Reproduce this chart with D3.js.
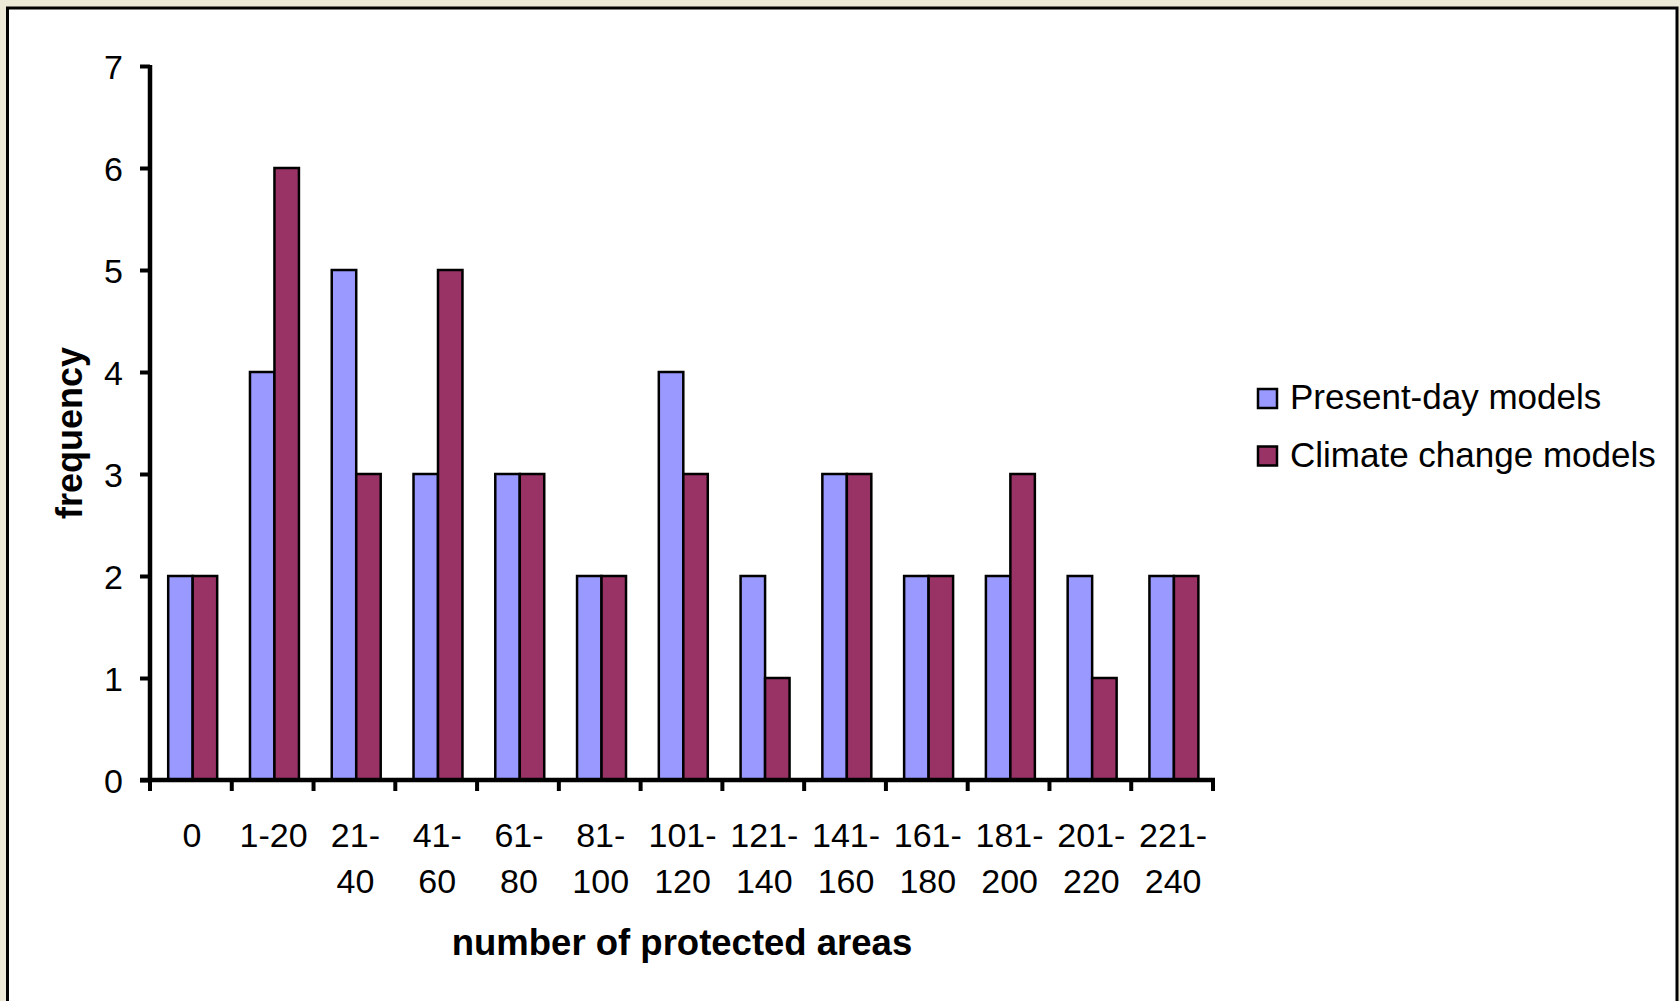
<!DOCTYPE html>
<html>
<head>
<meta charset="utf-8">
<script src="https://cdn.jsdelivr.net/npm/d3@7"></script>
<style>
  html, body { margin: 0; padding: 0; background: #ECE9D8; }
  svg { display: block; }
  text { font-family: "Liberation Sans", Arial, sans-serif; fill: #000; }
</style>
</head>
<body>
<svg id="chart" width="1680" height="1001"></svg>
<script>
// Frequency of species by number of protected areas
const categories = ["0", "1-20", "21-40", "41-60", "61-80", "81-100", "101-120",
                    "121-140", "141-160", "161-180", "181-200", "201-220", "221-240"];
const presentDay = [2, 4, 5, 3, 3, 2, 4, 2, 3, 2, 2, 2, 2];
const climateChange = [2, 6, 3, 5, 3, 2, 3, 1, 3, 2, 3, 1, 2];
const seriesNames = ["Present-day models", "Climate change models"];
const seriesColors = ["#9999FF", "#993366"];
const yTicks = [0, 1, 2, 3, 4, 5, 6, 7];

const svg = d3.select("#chart");
const W = 1680, H = 1001;

// outer frame
svg.append("rect").attr("width", W).attr("height", H).attr("fill", "#ECE9D8");
svg.append("rect")
  .attr("x", 7.5).attr("y", 8).attr("width", 1669.5).attr("height", H + 20)
  .attr("fill", "#fff").attr("stroke", "#000").attr("stroke-width", 3);

const plot = { left: 150, right: 1213, top: 66, bottom: 780 };

const x = d3.scaleBand().domain(categories).range([plot.left, plot.right]).paddingInner(0).paddingOuter(0);
const inner = d3.scaleBand().domain([0, 1]).range([0, x.bandwidth()]).paddingInner(0).paddingOuter(0.67);
const y = d3.scaleLinear().domain([0, 7]).range([plot.bottom, plot.top]);

const rows = categories.map((c, i) => ({ cat: c, vals: [presentDay[i], climateChange[i]] }));

// bars
const groups = svg.append("g").selectAll("g").data(rows).join("g")
  .attr("transform", d => `translate(${x(d.cat) + 1.8},0)`);
groups.selectAll("rect").data(d => d.vals.map((v, s) => ({ v, s }))).join("rect")
  .attr("x", d => inner(d.s))
  .attr("width", inner.bandwidth())
  .attr("y", d => y(d.v))
  .attr("height", d => y(0) - y(d.v))
  .attr("fill", d => seriesColors[d.s])
  .attr("stroke", "#000").attr("stroke-width", 2.5);

// y axis
const yAxis = svg.append("g").attr("transform", `translate(${plot.left},0)`)
  .call(d3.axisLeft(y).tickValues(yTicks).tickSize(10).tickPadding(17).tickFormat(d3.format("d")));
yAxis.select(".domain").attr("stroke", "#000").attr("stroke-width", 4.5)
  .attr("d", `M0,${plot.top - 1}V${plot.bottom + 2}`);
yAxis.selectAll(".tick line").attr("stroke", "#000").attr("stroke-width", 4);
yAxis.selectAll(".tick text").attr("font-size", "34px").attr("font-family", '"Liberation Sans", Arial, sans-serif')
  .attr("dy", "0.36em");

// x axis: line with ticks at category boundaries
const xAxis = svg.append("g").attr("transform", `translate(0,${plot.bottom})`);
xAxis.append("line").attr("x1", plot.left - 10).attr("x2", plot.right + 2)
  .attr("stroke", "#000").attr("stroke-width", 4.5);
const bounds = categories.map(c => x(c)).concat([x(categories[categories.length - 1]) + x.step()]);
xAxis.selectAll("line.tk").data(bounds).join("line").attr("class", "tk")
  .attr("x1", d => d).attr("x2", d => d).attr("y1", 0).attr("y2", 11)
  .attr("stroke", "#000").attr("stroke-width", 4);

// category labels, wrapped after the dash
const labels = svg.append("g").selectAll("text").data(categories).join("text")
  .attr("text-anchor", "middle")
  .attr("font-size", "34px")
  .attr("transform", d => `translate(${x(d) + x.bandwidth() / 2 + 1},847)`);
labels.each(function (d) {
  const t = d3.select(this);
  const parts = d.match(/^(\d+)-(\d+)$/);
  if (parts && d !== "1-20") {
    t.append("tspan").attr("x", 0).attr("y", 0).text(parts[1] + "-");
    t.append("tspan").attr("x", 0).attr("y", 46).text(parts[2]);
  } else {
    t.append("tspan").attr("x", 0).attr("y", 0).text(d);
  }
});

// axis titles
svg.append("text").attr("x", 682).attr("y", 955).attr("text-anchor", "middle")
  .attr("font-size", "36.5px").attr("font-weight", "bold").text("number of protected areas");
svg.append("text").attr("transform", "translate(82,433) rotate(-90)").attr("text-anchor", "middle")
  .attr("font-size", "36px").attr("font-weight", "bold").text("frequency");

// legend
const legend = svg.append("g").selectAll("g").data(seriesNames).join("g")
  .attr("transform", (d, i) => `translate(1258,${389 + i * 57.5})`);
legend.append("rect").attr("width", 19).attr("height", 19)
  .attr("fill", (d, i) => seriesColors[i]).attr("stroke", "#000").attr("stroke-width", 2.5);
legend.append("text").attr("x", 32).attr("y", 20).attr("font-size", "35px").text(d => d);
</script>
</body>
</html>
